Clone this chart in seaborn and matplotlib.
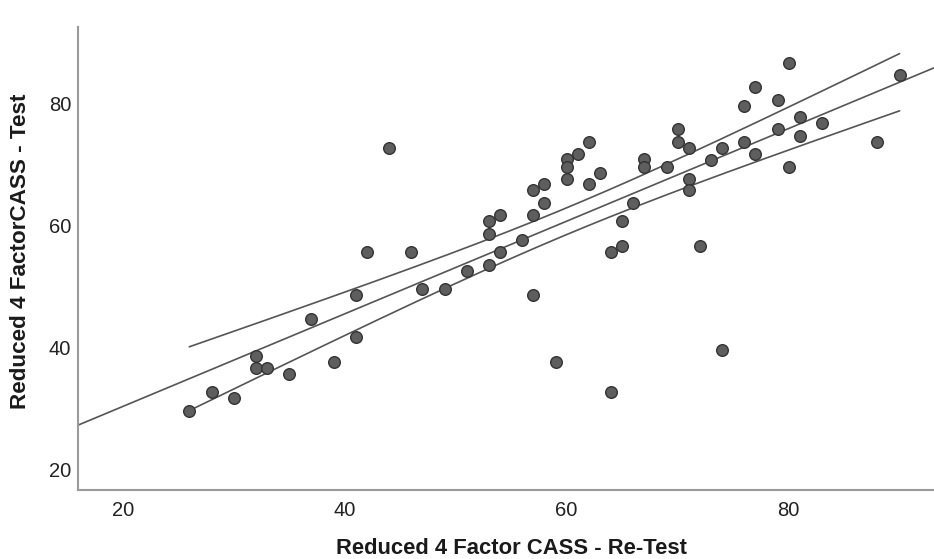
import numpy as np
import pandas as pd
import matplotlib
matplotlib.use("Agg")
import matplotlib.pyplot as plt
import seaborn as sns

# Re-test (x) and test (y) scores for each participant
retest = [26, 28, 30, 32, 32, 33, 35, 37, 39, 41, 41, 42, 44, 46, 47, 49, 51,
          53, 53, 53, 54, 54, 56, 57, 57, 57, 58, 58, 59, 60, 60, 60, 61, 62,
          62, 63, 64, 64, 65, 65, 66, 67, 67, 69, 70, 70, 71, 71, 71, 72, 73,
          74, 74, 76, 76, 77, 77, 79, 79, 80, 80, 81, 81, 83, 88, 90]
test = [29.5, 32.6, 31.6, 38.6, 36.6, 36.6, 35.6, 44.6, 37.6, 48.6, 41.7,
        55.6, 72.7, 55.6, 49.6, 49.6, 52.5, 60.6, 58.6, 53.5, 61.6, 55.6,
        57.6, 65.7, 61.6, 48.6, 66.7, 63.6, 37.6, 70.8, 69.6, 67.6, 71.6,
        73.7, 66.7, 68.6, 55.6, 32.6, 60.6, 56.6, 63.6, 70.8, 69.6, 69.6,
        75.7, 73.7, 72.7, 67.6, 65.7, 56.6, 70.7, 72.7, 39.6, 79.6, 73.7,
        82.7, 71.6, 80.6, 75.7, 86.6, 69.6, 77.7, 74.6, 76.7, 73.7, 84.6]

x_ticks = [20, 40, 60, 80]
y_ticks = [20, 40, 60, 80]
x_label = "Reduced 4 Factor CASS - Re-Test"
y_label = "Reduced 4 FactorCASS - Test"

df = pd.DataFrame({"retest": retest, "test": test})

sns.set_theme(style="white")
plt.rcParams["font.family"] = ["Liberation Sans", "DejaVu Sans"]

fig = plt.figure(figsize=(9.34, 5.59), dpi=100)
ax = fig.add_axes([78 / 934, 1 - 490 / 559, 1 - 78 / 934, (490 - 27) / 559])

xlim = (15.97, 93.1)
ylim = (16.56, 92.5)

# Least-squares fit with 95% confidence interval of the mean
x = df["retest"].to_numpy(float)
y = df["test"].to_numpy(float)
n = len(x)
slope, intercept = np.polyfit(x, y, 1)
resid = y - (intercept + slope * x)
s = np.sqrt(np.sum(resid ** 2) / (n - 2))
t_crit = 1.998
sxx = np.sum((x - x.mean()) ** 2)

xf = np.linspace(xlim[0], xlim[1], 200)
fit_df = pd.DataFrame({"x": xf, "y": intercept + slope * xf})
xc = np.linspace(x.min(), x.max(), 200)
half = t_crit * s * np.sqrt(1 / n + (xc - x.mean()) ** 2 / sxx)
yc = intercept + slope * xc
ci_lo = pd.DataFrame({"x": xc, "y": yc - half})
ci_hi = pd.DataFrame({"x": xc, "y": yc + half})

line_kw = dict(color="#555555", linewidth=1.2, ax=ax, legend=False)
sns.lineplot(data=fit_df, x="x", y="y", **line_kw)
sns.lineplot(data=ci_lo, x="x", y="y", **line_kw)
sns.lineplot(data=ci_hi, x="x", y="y", **line_kw)

sns.scatterplot(data=df, x="retest", y="test", ax=ax, s=70,
                color="#5e5e5e", edgecolor="#333333", linewidth=1.0,
                zorder=3, legend=False)

ax.set_xlim(*xlim)
ax.set_ylim(*ylim)
ax.set_xticks(x_ticks)
ax.set_yticks(y_ticks)
ax.tick_params(axis="both", length=0, labelsize=14.5, colors="#222222")
ax.tick_params(axis="x", pad=8)
ax.tick_params(axis="y", pad=5)

for side in ["top", "right"]:
    ax.spines[side].set_visible(False)
for side in ["left", "bottom"]:
    ax.spines[side].set_color("#9a9a9a")
    ax.spines[side].set_linewidth(1.5)

ax.set_xlabel(x_label, fontsize=15.8, fontweight="bold", color="#1a1a1a")
ax.set_ylabel(y_label, fontsize=16.2, fontweight="bold", color="#1a1a1a")
ax.xaxis.set_label_coords(0.5 + 6 / 856, -59 / 463)
ax.xaxis.label.set_va("center")
ax.yaxis.set_label_coords(-57 / 856, (490 - 251) / 463)
ax.yaxis.label.set_va("center")

fig.savefig("out.png", dpi=100)
